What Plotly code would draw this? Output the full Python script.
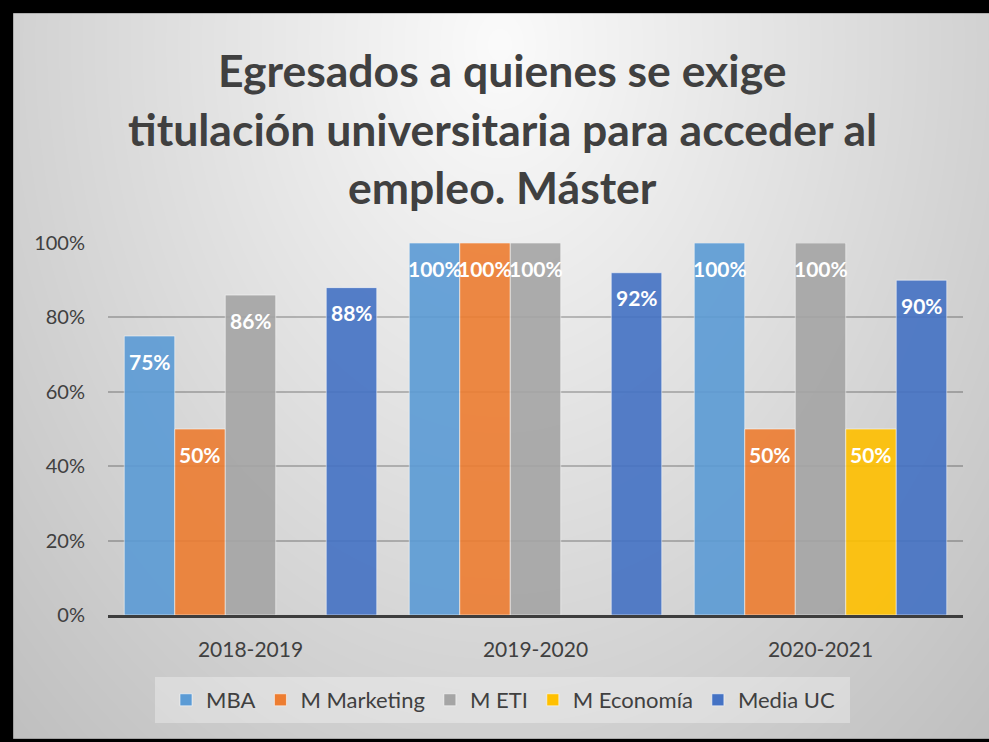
import zlib, struct, base64
import numpy as np
import plotly.graph_objects as go

# ---------------- data ----------------
categories = ["2018-2019", "2019-2020", "2020-2021"]
series_names = ["MBA", "M Marketing", "M ETI", "M Economía", "Media UC"]
mba = [0.75, 1.00, 1.00]
m_marketing = [0.50, 1.00, 0.50]
m_eti = [0.86, 1.00, 1.00]
m_economia = [None, None, 0.50]
media_uc = [0.88, 0.92, 0.90]
series_values = [mba, m_marketing, m_eti, m_economia, media_uc]
colors = ["#5B9BD5", "#ED7D31", "#A5A5A5", "#FFC000", "#4472C4"]
y_ticks = [0, 0.2, 0.4, 0.6, 0.8, 1.0]
title_lines = ["Egresados a quienes se exige",
               "titulación universitaria para acceder al",
               "empleo. Máster"]

# ---------------- geometry ----------------
W, H = 989, 742
ML, MR, MT, MB = 108, 26, 243, 127
PW, PH = W - ML - MR, H - MT - MB


def px_to_paper_x(px):
    return (px - ML) / PW


def py_to_paper_y(py):
    return (H - MB - py) / PH


# ---------------- background gradient image ----------------
gx0, gy0, gx1, gy1 = 13, 13, 989, 739
xs = np.arange(gx0, gx1) + 0.5
ys = np.arange(gy0, gy1) + 0.5
XX, YY = np.meshgrid(xs, ys)
d = np.sqrt(((XX - 500) / 560.0) ** 2 + ((YY - 45) / 760.0) ** 2)
val = np.clip(251 - 47 * d, 0, 255).astype(np.uint8)


def png_gray(arr):
    h, w = arr.shape
    raw = b"".join(b"\x00" + arr[i].tobytes() for i in range(h))

    def chunk(t, dd):
        c = struct.pack(">I", len(dd)) + t + dd
        return c + struct.pack(">I", zlib.crc32(t + dd) & 0xFFFFFFFF)

    return (b"\x89PNG\r\n\x1a\n"
            + chunk(b"IHDR", struct.pack(">IIBBBBB", w, h, 8, 0, 0, 0, 0))
            + chunk(b"IDAT", zlib.compress(raw, 9))
            + chunk(b"IEND", b""))


bg_uri = "data:image/png;base64," + base64.b64encode(png_gray(val)).decode()

# ---------------- bars ----------------
n_series = len(series_names)
bargap = 0.114
bw = (1 - bargap) / n_series
group_x = list(range(len(categories)))

fig = go.Figure()
annotations = []
for s, (name, vals, col) in enumerate(zip(series_names, series_values, colors)):
    xpos = [g + (s - (n_series - 1) / 2) * bw for g in group_x]
    fig.add_trace(go.Bar(
        name=name, x=xpos, y=vals, width=bw,
        marker=dict(color=col, opacity=0.9,
                    line=dict(color="rgba(255,255,255,0.55)", width=1)),
        hoverinfo="skip",
    ))
    for xv, v in zip(xpos, vals):
        if v is None:
            continue
        annotations.append(dict(
            x=xv, y=v, xref="x", yref="y", text=f"{round(v * 100)}%",
            showarrow=False, yanchor="middle", xanchor="center", yshift=-25,
            font=dict(family="Lato", size=21, color="white", weight="bold"),
        ))

# title lines as annotations
title_centers = [69, 128, 187]
for line, cy in zip(title_lines, title_centers):
    annotations.append(dict(
        x=px_to_paper_x(502), y=py_to_paper_y(cy), xref="paper", yref="paper",
        text=line, showarrow=False, xanchor="center", yanchor="middle",
        font=dict(family="Lato", size=44.5, color="#404040", weight="bold"),
    ))

legend_box = (155, 677, 850, 723)

fig.update_layout(
    width=W, height=H,
    margin=dict(l=ML, r=MR, t=MT, b=MB),
    paper_bgcolor="black",
    plot_bgcolor="rgba(0,0,0,0)",
    barmode="overlay",
    showlegend=True,
    font=dict(family="Lato", color="#404040", size=20),
    images=[dict(
        source=bg_uri, xref="paper", yref="paper",
        x=px_to_paper_x(gx0), y=py_to_paper_y(gy0),
        sizex=(gx1 - gx0) / PW, sizey=(gy1 - gy0) / PH,
        xanchor="left", yanchor="top", sizing="stretch", layer="below",
    )],
    shapes=[
        dict(type="rect", xref="paper", yref="paper", layer="below",
             x0=px_to_paper_x(gx0), x1=px_to_paper_x(gx1 + 2),
             y0=py_to_paper_y(gy1), y1=py_to_paper_y(gy0),
             line=dict(color="rgba(0,0,0,0.35)", width=1),
             fillcolor="rgba(0,0,0,0)"),
        dict(type="rect", xref="paper", yref="paper", layer="below",
             x0=px_to_paper_x(legend_box[0]), x1=px_to_paper_x(legend_box[2]),
             y0=py_to_paper_y(legend_box[3]), y1=py_to_paper_y(legend_box[1]),
             line=dict(width=0), fillcolor="rgba(255,255,255,0.32)"),
    ],
    annotations=annotations,
    xaxis=dict(
        range=[-0.5, len(categories) - 0.5],
        tickmode="array", tickvals=group_x, ticktext=categories,
        showgrid=False, zeroline=False,
        showline=True, linecolor="#3d3d3d", linewidth=3,
        ticks="", ticklabelstandoff=14,
        tickfont=dict(family="Lato", size=21, color="#404040"),
    ),
    yaxis=dict(
        range=[0, 1], tickmode="array", tickvals=y_ticks, tickformat=".0%",
        showgrid=True, gridcolor="rgba(0,0,0,0.22)", gridwidth=1.5,
        zeroline=False, showline=False, ticks="", ticklabelstandoff=22,
        tickfont=dict(family="Lato", size=20, color="#404040"),
    ),
    legend=dict(
        orientation="h", x=px_to_paper_x(166), y=py_to_paper_y(700),
        xanchor="left", yanchor="middle",
        bgcolor="rgba(0,0,0,0)", borderwidth=0,
        font=dict(family="Lato", size=22, color="#404040"),
        traceorder="normal",
    ),
)

fig.write_html("out.html", config={"displayModeBar": False},
               post_script="document.body.style.margin='0';")
